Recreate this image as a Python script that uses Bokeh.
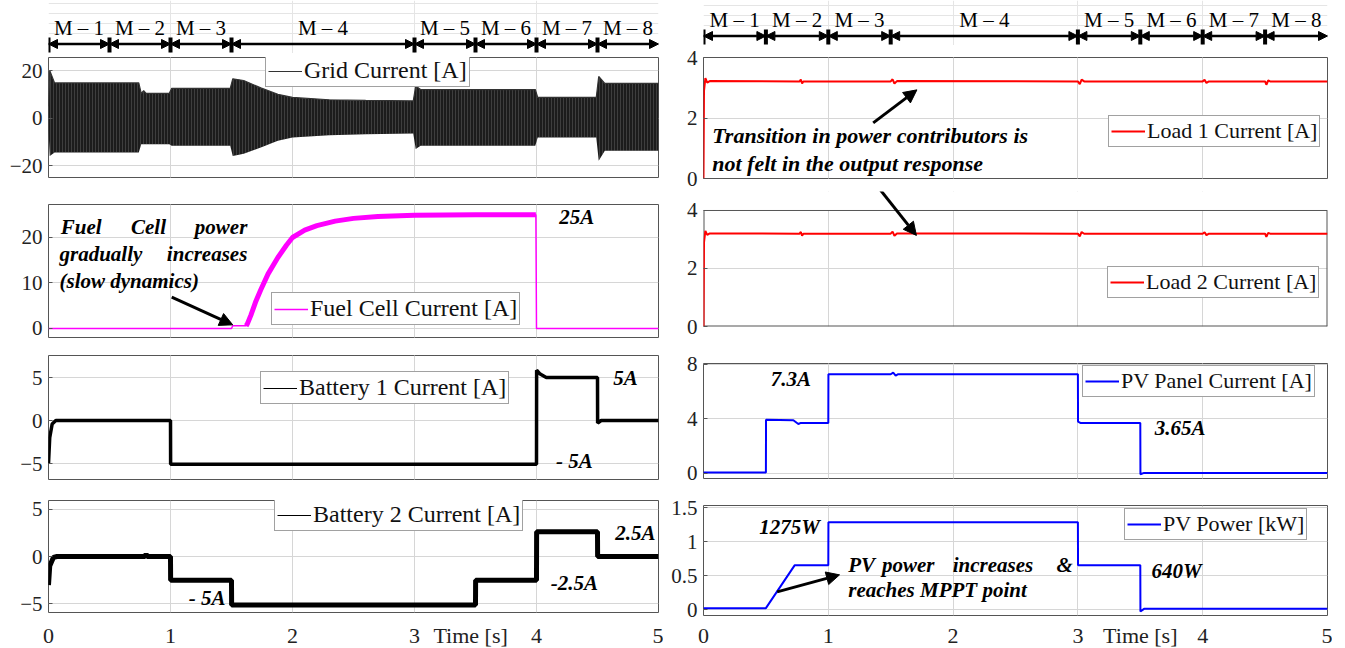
from bokeh.plotting import figure
from bokeh.models import (Range1d, Label, Arrow, NormalHead, Legend, LegendItem,
                          Grid, FixedTicker)
from bokeh.layouts import column, row
from bokeh.embed import file_html
from bokeh.resources import INLINE
from bokeh.core.properties import value

# ------------------------------------------------------------------ data
modes = ["M – 1", "M – 2", "M – 3", "M – 4", "M – 5", "M – 6", "M – 7", "M – 8"]
mode_bounds = [0.0, 0.5, 1.0, 1.5, 3.0, 3.5, 4.0, 4.5, 5.0]
x_ticks = [0, 1, 2, 3, 4, 5]
x_grid_ticks = [1, 2, 3, 4]

# grid current (AC) envelope
grid_t = [0.00, 0.01, 0.05, 0.74, 0.76, 0.78, 0.80, 0.99, 1.01, 1.49, 1.51, 1.60, 1.74,
          1.88, 2.00, 2.30, 2.60, 2.99, 3.01, 3.05, 3.99, 4.01, 4.49, 4.51, 4.56, 5.00]
grid_hi = [5.0, 20.0, 14.8, 14.8, 10.4, 11.5, 10.4, 10.4, 12.5, 12.5, 16.5, 15.8, 12.7,
           10.0, 8.7, 7.7, 7.4, 7.2, 13.5, 12.0, 12.0, 8.7, 8.7, 17.5, 14.6, 14.6]
grid_lo = [-5.0, -16.0, -14.5, -14.5, -11.0, -11.0, -11.0, -11.0, -11.7, -11.7, -16.0, -15.0, -12.4,
           -9.6, -8.2, -7.2, -6.8, -6.5, -13.0, -11.7, -11.7, -8.2, -8.2, -18.0, -13.8, -13.8]

# fuel cell current
fc_t = [0.00, 1.50, 1.51, 1.62, 1.63, 1.66, 1.70, 1.74, 1.80, 1.88, 1.95, 2.00, 2.10,
        2.20, 2.35, 2.50, 2.70, 3.00, 3.50, 3.995, 4.00, 5.00]
fc_i = [0.0, 0.0, 0.6, 0.6, 1.0, 3.0, 6.0, 8.5, 12.0, 15.6, 18.3, 20.0, 21.6,
        22.6, 23.6, 24.2, 24.6, 24.9, 25.0, 25.0, 0.0, 0.0]

# battery currents
b1_t = [0.00, 0.01, 0.03, 0.06, 1.00, 1.001, 4.00, 4.001, 4.03, 4.08, 4.50, 4.501, 4.53, 5.00]
b1_i = [-5.0, -2.0, -0.4, 0.0, 0.0, -5.1, -5.1, 5.85, 5.4, 5.0, 5.0, -0.3, 0.0, 0.0]
b2_t = [0.00, 0.01, 0.04, 0.07, 0.79, 0.80, 0.81, 1.00, 1.001, 1.50, 1.501, 3.50, 3.501,
        4.00, 4.001, 4.50, 4.501, 5.00]
b2_i = [-3.0, -1.0, -0.1, 0.0, 0.0, 0.25, 0.0, 0.0, -2.5, -2.5, -5.1, -5.1, -2.5,
        -2.5, 2.6, 2.6, 0.0, 0.0]

# load currents
load_t = [0.000, 0.004, 0.015, 0.030, 0.050, 0.770, 0.780, 0.790, 0.800, 1.500, 1.515, 1.530,
          1.550, 3.000, 3.015, 3.030, 3.050, 4.000, 4.015, 4.030, 4.050, 4.500, 4.510, 4.525,
          4.540, 5.000]
load1_i = [0.0, 2.9, 3.32, 3.17, 3.22, 3.21, 3.27, 3.14, 3.21, 3.21, 3.28, 3.14,
           3.22, 3.21, 3.12, 3.27, 3.21, 3.21, 3.26, 3.16, 3.21, 3.21, 3.10, 3.24,
           3.21, 3.21]
load2_i = [0.0, 2.9, 3.30, 3.16, 3.21, 3.20, 3.26, 3.13, 3.20, 3.20, 3.27, 3.13,
           3.21, 3.20, 3.11, 3.26, 3.20, 3.20, 3.25, 3.15, 3.20, 3.20, 3.09, 3.23,
           3.20, 3.20]

# PV panel current and power
pv_t = [0.00, 0.50, 0.501, 0.72, 0.76, 0.78, 1.00, 1.001, 1.50, 1.52, 1.54, 1.56, 3.00,
        3.001, 3.02, 3.50, 3.501, 3.53, 5.00]
pv_i = [0.05, 0.05, 3.93, 3.90, 3.62, 3.70, 3.70, 7.28, 7.28, 7.40, 7.18, 7.28, 7.28,
        3.80, 3.70, 3.70, -0.08, 0.02, 0.02]
pp_t = [0.00, 0.50, 0.73, 1.00, 1.001, 3.00, 3.001, 3.50, 3.501, 3.53, 5.00]
pp_kw = [0.02, 0.02, 0.65, 0.65, 1.285, 1.285, 0.65, 0.65, -0.03, 0.01, 0.01]

# ------------------------------------------------------------------ style helpers
FONT = "Liberation Serif"
TICK_FS = "21px"
XTICK_FS = "22px"
LEG_FS_L = "24px"
LEG_FS_R = "22px"
ANN_FS = "21px"
GRID_C = "#d6d6d6"
FRAME_C = "#555555"

L_BL, L_FW, L_BR = 48, 610, 5
R_BL, R_FW, R_BR = 40, 624, 5


def panel(fw, bl, br, bt, fh, bb, y_lo, y_hi, yticks, time_at=None, x_standoff=4):
    show_x = time_at is not None
    p = figure(frame_width=fw, frame_height=fh, min_border_left=bl, min_border_right=br,
               min_border_top=bt, min_border_bottom=bb,
               x_range=Range1d(0, 5), y_range=Range1d(y_lo, y_hi),
               x_axis_location="below" if show_x else None,
               toolbar_location=None, tools="", output_backend="svg", title=None)
    p.outline_line_color = FRAME_C
    p.outline_line_width = 1
    p.background_fill_color = "white"
    p.border_fill_color = "white"
    ax = p.yaxis[0]
    ax.ticker = FixedTicker(ticks=yticks)
    ax.axis_line_color = None
    ax.major_tick_in = 4
    ax.major_tick_out = 0
    ax.minor_tick_line_color = None
    ax.major_tick_line_color = FRAME_C
    ax.major_label_text_font = FONT
    ax.major_label_text_font_size = TICK_FS
    ax.major_label_text_color = "#222222"
    ax.major_label_standoff = 6
    p.ygrid.grid_line_color = GRID_C
    p.ygrid.ticker = FixedTicker(ticks=yticks)
    if show_x:
        xa = p.xaxis[0]
        xa.ticker = FixedTicker(ticks=sorted(x_ticks + [time_at]))
        xa.major_label_overrides = {time_at: "Time [s]"}
        xa.axis_line_color = None
        xa.major_tick_in = 0
        xa.major_tick_out = 0
        xa.minor_tick_line_color = None
        xa.major_label_text_font = FONT
        xa.major_label_text_font_size = XTICK_FS
        xa.major_label_text_color = "#222222"
        xa.major_label_standoff = x_standoff
        p.xgrid.grid_line_color = GRID_C
        p.xgrid.ticker = FixedTicker(ticks=x_grid_ticks)
    else:
        p.add_layout(Grid(dimension=0, ticker=FixedTicker(ticks=x_grid_ticks),
                          grid_line_color=GRID_C))
    return p


def legend(p, rend, text, xo, yo, fs):
    leg = Legend(items=[LegendItem(label=text, renderers=[rend])], location=(xo, yo),
                 label_text_font=FONT, label_text_font_size=fs, label_text_color="#111111",
                 border_line_color="#444444", border_line_width=1, background_fill_alpha=1.0,
                 padding=2, margin=0, spacing=0, glyph_width=34, glyph_height=20,
                 label_height=20, label_standoff=2)
    p.add_layout(leg)


def lab(p, x, y, text, align="center", size=ANN_FS, style="bold italic"):
    p.add_layout(Label(x=x, y=y, text=text, text_font=FONT, text_font_size=size,
                       text_font_style=style, text_align=align, text_baseline="middle",
                       text_color="black"))


def arrow(p, x0, y0, x1, y1):
    p.add_layout(Arrow(end=NormalHead(size=13, fill_color="black", line_color="black"),
                       start=None, x_start=x0, y_start=y0, x_end=x1, y_end=y1,
                       line_width=3, line_color="black"))


def mode_row(bl, fw, br, h):
    p = figure(frame_width=fw, frame_height=h, min_border_left=bl, min_border_right=br,
               min_border_top=0, min_border_bottom=0,
               x_range=Range1d(0, 5), y_range=Range1d(0, h),
               x_axis_location=None, y_axis_location=None, toolbar_location=None,
               tools="", output_backend="svg", title=None)
    p.outline_line_color = None
    p.background_fill_color = "white"
    p.border_fill_color = "white"
    starts = mode_bounds[:-1]
    p.segment(x0=starts, y0=[1] * len(starts), x1=starts, y1=[16] * len(starts),
              line_width=4, line_color="black")
    for a, b in zip(mode_bounds[:-1], mode_bounds[1:]):
        p.add_layout(Arrow(start=NormalHead(size=9, fill_color="black", line_color="black"),
                           end=NormalHead(size=9, fill_color="black", line_color="black"),
                           x_start=a, y_start=9.5, x_end=b, y_end=9.5,
                           line_width=2.5, line_color="black"))
    mids = [(a + b) / 2 for a, b in zip(mode_bounds[:-1], mode_bounds[1:])]
    p.text(x=mids, y=[26] * len(mids), text=modes, text_font=value(FONT),
           text_font_size="21px", text_align="center", text_baseline="middle",
           text_color="black")
    return p


# ------------------------------------------------------------------ left column
mL = mode_row(L_BL, L_FW, L_BR, 53)

g1 = panel(L_FW, L_BL, L_BR, 4, 120, 13, -25.05, 25.5, [-20, 0, 20])
g1.varea(x=grid_t, y1=grid_lo, y2=grid_hi, fill_color="#1c1c1c",
         hatch_pattern="vertical_line", hatch_color="#9a9a9a", hatch_alpha=0.45,
         hatch_scale=3, hatch_weight=0.6)
rg = g1.line(grid_t, grid_hi, line_color="#333333", line_width=1.2)
legend(g1, rg, "Grid Current [A]", 217, 90, LEG_FS_L)

g2 = panel(L_FW, L_BL, L_BR, 14, 133, 9, -1.98, 27.25, [0, 10, 20])
rf = g2.line(fc_t, fc_i, line_color="#ff00ff", line_width=1.5)
thick = [(t, v) for t, v in zip(fc_t, fc_i) if 1.62 <= t <= 3.995]
g2.line([t for t, v in thick], [v for t, v in thick], line_color="#ff00ff", line_width=5)
legend(g2, rf, "Fuel Cell Current [A]", 223, 12, LEG_FS_L)
lab(g2, 0.10, 22.2, "Fuel", "left")
lab(g2, 0.82, 22.2, "Cell", "center")
lab(g2, 1.63, 22.2, "power", "right")
lab(g2, 0.09, 16.4, "gradually", "left")
lab(g2, 1.63, 16.4, "increases", "right")
lab(g2, 0.09, 10.5, "(slow dynamics)", "left")
arrow(g2, 1.01, 6.9, 1.51, 0.8)
lab(g2, 4.33, 24.4, "25A")

g3 = panel(L_FW, L_BL, L_BR, 9, 124, 10, -6.86, 7.56, [-5, 0, 5])
rb1 = g3.line(b1_t, b1_i, line_color="black", line_width=1.2)
g3.line(b1_t, b1_i, line_color="black", line_width=3.5)
legend(g3, rb1, "Battery 1 Current [A]", 212, 75, LEG_FS_L)
lab(g3, 4.73, 4.92, "5A")
lab(g3, 4.31, -4.7, "- 5A")

g4 = panel(L_FW, L_BL, L_BR, 11, 112, 34, -5.9, 5.9, [-5, 0, 5], time_at=3.46, x_standoff=10)
rb2 = g4.line(b2_t, b2_i, line_color="black", line_width=1.2)
g4.line(b2_t, b2_i, line_color="black", line_width=5)
legend(g4, rb2, "Battery 2 Current [A]", 226, 81, LEG_FS_L)
lab(g4, 4.81, 2.5, "2.5A")
lab(g4, 4.31, -2.8, "-2.5A")
lab(g4, 1.30, -4.4, "- 5A")

left = column(mL, g1, g2, g3, g4)

# ------------------------------------------------------------------ right column
mR = mode_row(R_BL, R_FW, R_BR, 45)

h1 = panel(R_FW, R_BL, R_BR, 12, 121, 13, 0, 4, [0, 2, 4])
rl1 = h1.line(load_t, load1_i, line_color="#ff0000", line_width=2)
legend(h1, rl1, "Load 1 Current [A]", 405, 31, LEG_FS_R)
lab(h1, 0.07, 1.42, "Transition in power contributors is", "left", size="22px")
lab(h1, 0.07, 0.49, "not felt in the output response", "left", size="22px")
arrow(h1, 1.36, 1.84, 1.71, 2.93)

# load 2: its frame also covers the gap above it, so the arrow can cross it
L2_LO, L2_HI, L2_TOP = 0, 4, 4.655
h2 = panel(R_FW, R_BL, R_BR, 0, 135, 18, L2_LO, L2_TOP, [0, 2, 4])
h2.outline_line_color = None
h2.quad(left=0, right=5, bottom=L2_HI, top=L2_TOP, fill_color="white", line_color=None)
h2.segment(x0=[0, 5, 0], y0=[L2_LO, L2_LO, L2_LO], x1=[0, 5, 5], y1=[L2_HI, L2_HI, L2_LO],
           line_color=FRAME_C, line_width=2)
h2.segment(x0=[0], y0=[L2_HI], x1=[5], y1=[L2_HI], line_color=FRAME_C, line_width=1)
rl2 = h2.line(load_t, load2_i, line_color="#ff0000", line_width=2)
legend(h2, rl2, "Load 2 Current [A]", 404, 28, LEG_FS_R)
arrow(h2, 1.358, 5.03, 1.706, 3.14)

h3 = panel(R_FW, R_BL, R_BR, 19, 115, 13, -0.39, 8.07, [0, 4, 8])
rp = h3.line(pv_t, pv_i, line_color="#0000ff", line_width=2)
legend(h3, rp, "PV Panel Current [A]", 379, 81, LEG_FS_R)
lab(h3, 0.70, 6.94, "7.3A")
lab(h3, 3.82, 3.34, "3.65A")

h4 = panel(R_FW, R_BL, R_BR, 14, 110, 31, -0.088, 1.53, [0, 0.5, 1, 1.5], time_at=3.5, x_standoff=7)
h4.yaxis[0].major_label_overrides = {0: "0", 0.5: "0.5", 1: "1", 1.5: "1.5"}
rw = h4.line(pp_t, pp_kw, line_color="#0000ff", line_width=2)
legend(h4, rw, "PV Power [kW]", 421, 75, LEG_FS_R)
lab(h4, 0.69, 1.22, "1275W")
lab(h4, 3.79, 0.57, "640W")
lab(h4, 1.16, 0.66, "PV", "left")
lab(h4, 1.64, 0.66, "power", "center")
lab(h4, 2.32, 0.66, "increases", "center")
lab(h4, 2.96, 0.66, "&", "right")
lab(h4, 1.16, 0.29, "reaches MPPT point", "left")
arrow(h4, 0.59, 0.26, 1.09, 0.51)

right = column(mR, h1, h2, h3, h4)

page = row(left, right)
open("out.html", "w").write(file_html(page, INLINE))
